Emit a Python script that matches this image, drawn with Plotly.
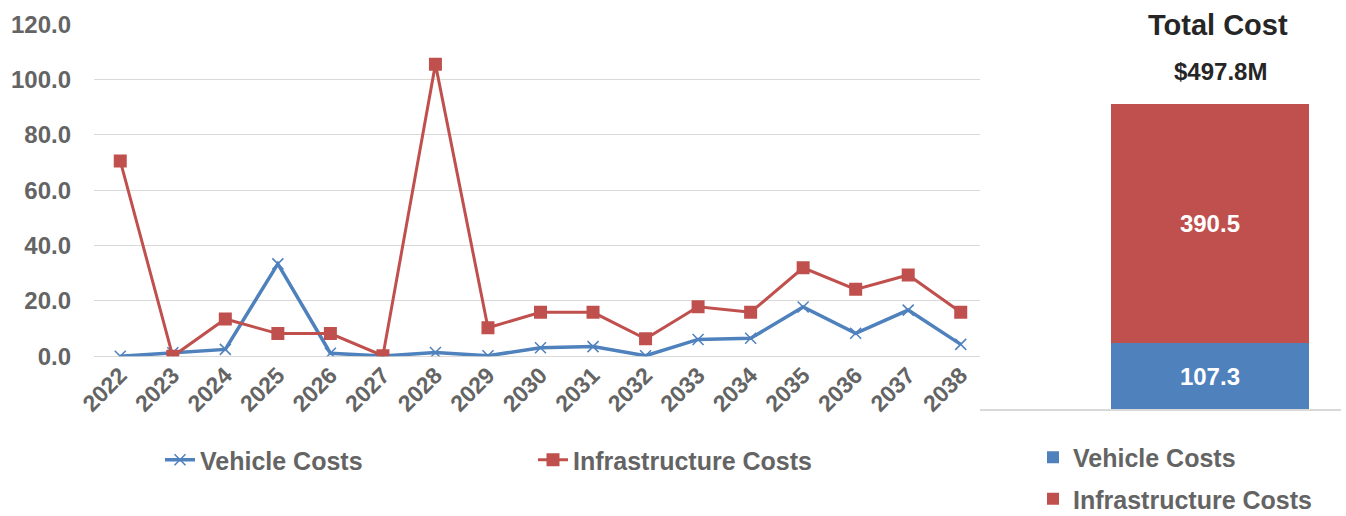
import plotly.graph_objects as go

# Annual costs ($M) by year
years = [str(y) for y in range(2022, 2039)]
vehicle_costs = [0.0, 1.3, 2.5, 33.4, 1.1, 0.1, 1.4, 0.2, 3.1, 3.5, 0.2, 6.1, 6.5, 17.8, 8.3, 16.7, 4.3]
infrastructure_costs = [70.6, 0.0, 13.5, 8.2, 8.2, 0.2, 105.6, 10.3, 15.9, 15.9, 6.3, 17.9, 15.9, 32.0, 24.2, 29.4, 15.9]

# Cumulative totals ($M)
total_labels = ["Total"]
vehicle_total = [107.3]
infrastructure_total = [390.5]

BLUE = "#4F81BD"
RED = "#C0504D"
GRID = "#D9D9D9"
TXT = "#646464"
FONT = "Liberation Sans"

W, H = 1346, 516


def px_x(p):
    return p / W


def px_y(p):
    return 1 - p / H


fig = go.Figure()

fig.add_trace(go.Scatter(
    x=years, y=vehicle_costs, name="Vehicle Costs", mode="lines+markers",
    line=dict(color=BLUE, width=3.5),
    marker=dict(symbol="x-thin", size=11, line=dict(color=BLUE, width=1.5)),
    xaxis="x", yaxis="y", legend="legend",
))
fig.add_trace(go.Scatter(
    x=years, y=infrastructure_costs, name="Infrastructure Costs", mode="lines+markers",
    line=dict(color=RED, width=3),
    marker=dict(symbol="square", size=13, color=RED),
    xaxis="x", yaxis="y", legend="legend",
))

bar_font = dict(color="white", size=24, family=FONT, weight="bold")
fig.add_trace(go.Bar(
    x=total_labels, y=vehicle_total, name="Vehicle Costs", marker=dict(color=BLUE, line=dict(width=0)),
    width=0.55, text=[f"{v:.1f}" for v in vehicle_total], textposition="inside",
    insidetextanchor="middle", textfont=bar_font,
    xaxis="x2", yaxis="y2", legend="legend2", legendgroup="v",
))
fig.add_trace(go.Bar(
    x=total_labels, y=infrastructure_total, name="Infrastructure Costs", marker=dict(color=RED, line=dict(width=0)),
    width=0.55, text=[f"{v:.1f}" for v in infrastructure_total], textposition="inside",
    insidetextanchor="middle", textfont=bar_font,
    xaxis="x2", yaxis="y2", legend="legend2", legendgroup="i",
))

grand_total = vehicle_total[0] + infrastructure_total[0]

fig.update_layout(
    width=W, height=H,
    margin=dict(l=0, r=0, t=0, b=0, autoexpand=False),
    paper_bgcolor="white", plot_bgcolor="white",
    font=dict(family=FONT, color=TXT),
    barmode="stack",
    xaxis=dict(
        domain=[px_x(94), px_x(987)], range=[-0.5, 16.5], type="category",
        tickangle=-45, showgrid=False, showline=False, ticks="",
        tickfont=dict(size=23, family=FONT, color=TXT, weight="bold"),
        automargin=False, fixedrange=True,
    ),
    yaxis=dict(
        domain=[px_y(356.3), px_y(24.3)], range=[0, 120], dtick=20, tickformat=".1f",
        showgrid=True, gridcolor=GRID, gridwidth=1.3, zeroline=True, zerolinecolor=GRID, zerolinewidth=1.3,
        showline=False, ticks="", ticklabelstandoff=22,
        tickfont=dict(size=24, family=FONT, color=TXT, weight="bold"),
        automargin=False, fixedrange=True,
    ),
    xaxis2=dict(
        domain=[px_x(980), px_x(1341)], range=[-0.637, 0.363], type="category",
        showticklabels=False, showgrid=False, showline=True, linecolor=GRID, linewidth=1.5,
        ticks="", anchor="y2", automargin=False,
    ),
    yaxis2=dict(
        domain=[px_y(409.3), px_y(24.3)], range=[0, 627.7], visible=False,
        anchor="x2", automargin=False,
    ),
    legend=dict(
        orientation="h", x=px_x(160), xanchor="left", y=px_y(460), yanchor="middle",
        font=dict(size=25, family=FONT, color=TXT, weight="bold"), entrywidth=328, entrywidthmode="pixels",
        bgcolor="rgba(0,0,0,0)",
    ),
    legend2=dict(
        orientation="v", x=px_x(1033), xanchor="left", y=px_y(478), yanchor="middle",
        font=dict(size=25, family=FONT, color=TXT, weight="bold"), traceorder="grouped",
        tracegroupgap=6, bgcolor="rgba(0,0,0,0)",
    ),
    annotations=[
        dict(text="Total Cost", x=px_x(1218), y=px_y(25), xref="paper", yref="paper",
             xanchor="center", yanchor="middle",
             showarrow=False, font=dict(size=29, family=FONT, color="#262626", weight="bold")),
        dict(text=f"${grand_total:.1f}M", x=px_x(1220), y=px_y(71), xref="paper", yref="paper",
             xanchor="center", yanchor="middle",
             showarrow=False, font=dict(size=24, family=FONT, color="#262626", weight="bold")),
    ],
)

fig.write_html("out.html")
